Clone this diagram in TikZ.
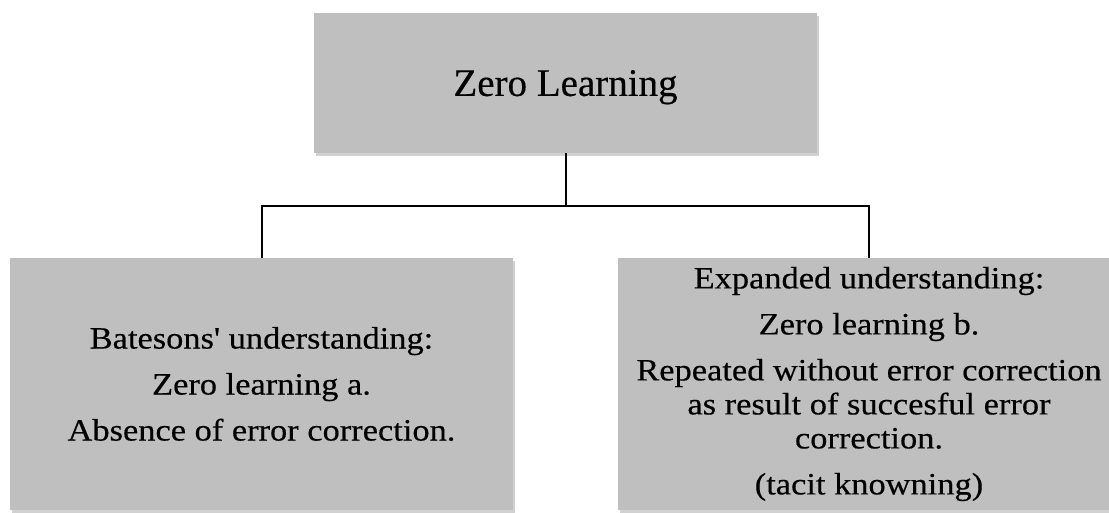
\documentclass[tikz,border=0pt]{standalone}
\usepackage{fontspec}
\setmainfont[FakeBold=0.4]{Liberation Serif}
\newfontfamily\bodyfont[FakeStretch=1.11,FakeBold=0.4]{Liberation Serif}
\usetikzlibrary{shadows}
\definecolor{boxgray}{HTML}{BFBFBF}
\tikzset{
  graybox/.style={fill=boxgray, draw=none, inner sep=0pt, align=center,
    drop shadow={shadow xshift=1.5pt, shadow yshift=-3pt, fill=black, opacity=0.18}},
  conn/.style={draw=black, line width=2pt}
}
\begin{document}
\begin{tikzpicture}[x=1pt,y=-1pt]
\useasboundingbox (0,0) rectangle (1109,512);
\node[graybox, minimum width=503pt, minimum height=140pt, text depth=0pt,
      font=\fontsize{39}{45}\selectfont] (zl) at (565.5,83) {Zero Learning};
\node[graybox, minimum width=503pt, minimum height=252pt,
      font=\fontsize{31}{34}\bodyfont] (ba) at (261.5,384)
  {Batesons' understanding:\\[12pt]Zero learning a.\\[12pt]Absence of error correction.};
\node[graybox, minimum width=502pt, minimum height=252pt,
      font=\fontsize{31}{34}\bodyfont] (ex) at (869,384)
  {Expanded understanding:\\[12pt]Zero learning b.\\[12pt]Repeated without error correction\\as result of succesful error\\correction.\\[12pt](tacit knowning)};
\coordinate (j) at (565.5,205.7);
\draw[conn] (zl.south) -- (j);
\draw[conn] (ba.north) |- (j) -| (ex.north);
\end{tikzpicture}
\end{document}
